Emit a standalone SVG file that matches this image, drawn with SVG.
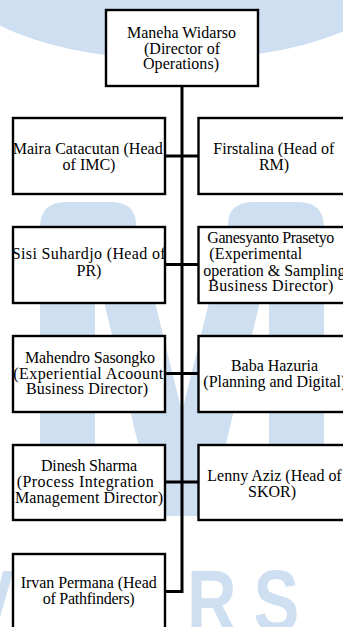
<svg xmlns="http://www.w3.org/2000/svg" width="343" height="627" viewBox="0 0 343 627">
<style>
.wm{fill:#cddff0}
.wmt{font-family:"Liberation Sans",Arial,sans-serif;font-weight:bold;font-size:88px;fill:#cddff0}
.box{fill:#fff;stroke:#000;stroke-width:2.4}
.t{font-family:"Liberation Serif","Times New Roman",serif;font-size:16px;fill:#000}
.c{text-anchor:middle}
.con{fill:none;stroke:#000;stroke-width:3}
</style>
<rect width="343" height="627" fill="#fff"/>
<g id="watermark">
<ellipse class="wm" cx="178" cy="-34" rx="230" ry="94"/>
<path class="wm" d="M40,516 L40,228 Q40,202 66,202 L110,202 Q136,202 136,225 L182,412 L228,225 Q228,202 254,202 L298,202 Q324,202 324,228 L324,516 L269,516 L269,264 L208.6,516 L155.4,516 L95,264 L95,516 Z"/>
<g transform="translate(-32,631) scale(0.78,1)"><text class="wmt" x="0" y="0">V</text></g>
<g transform="translate(187,631) scale(0.78,1)"><text class="wmt" x="0" y="0">R</text></g>
<g transform="translate(253.5,631) scale(0.78,1)"><text class="wmt" x="0" y="0">S</text></g>
</g>
<g id="connectors">
<path class="con" d="M182,87 V591.5 H166"/>
<path class="con" d="M166,156 H198"/>
<path class="con" d="M166,264.5 H198"/>
<path class="con" d="M166,373.5 H198"/>
<path class="con" d="M166,482 H198"/>
</g>
<g id="n-maneha">
<rect class="box" x="106" y="10" width="152" height="76"/>
<text class="t" x="127" y="37.5" textLength="109">Maneha Widarso</text>
<text class="t" x="144" y="53.5" textLength="76">(Director of</text>
<text class="t" x="143" y="69" textLength="76">Operations)</text>
</g>
<g id="n-maira">
<rect class="box" x="13" y="118" width="152" height="76"/>
<text class="t" x="12.7" y="153.5" textLength="150">Maira Catacutan (Head</text>
<text class="t c" x="89" y="169.5">of IMC)</text>
</g>
<g id="n-firstalina">
<rect class="box" x="198.5" y="118" width="152" height="76"/>
<text class="t" x="213.3" y="153.5" textLength="121">Firstalina (Head of</text>
<text class="t c" x="274" y="169.5">RM)</text>
</g>
<g id="n-sisi">
<rect class="box" x="13" y="227" width="152" height="76"/>
<text class="t" x="11.7" y="259" textLength="154">Sisi Suhardjo (Head of</text>
<text class="t c" x="89" y="275.5">PR)</text>
</g>
<g id="n-ganesyanto">
<rect class="box" x="198.5" y="227" width="152" height="76"/>
<text class="t" x="207.3" y="243.3" textLength="127">Ganesyanto Prasetyo</text>
<text class="t" x="209.3" y="259.3" textLength="93">(Experimental</text>
<text class="t" x="203.3" y="275.5">operation &amp; Sampling</text>
<text class="t" x="208.3" y="291.3" textLength="125">Business Director)</text>
</g>
<g id="n-mahendro">
<rect class="box" x="13" y="336" width="152" height="76"/>
<text class="t" x="25" y="362.7" textLength="130">Mahendro Sasongko</text>
<text class="t" x="13.3" y="378.5" textLength="150">(Experiential Acoount</text>
<text class="t" x="26" y="394.3" textLength="122">Business Director)</text>
</g>
<g id="n-baba">
<rect class="box" x="198.5" y="336" width="152" height="76"/>
<text class="t" x="231" y="370.5" textLength="87">Baba Hazuria</text>
<text class="t" x="203.3" y="386.5">(Planning and Digital)</text>
</g>
<g id="n-dinesh">
<rect class="box" x="13" y="445" width="152" height="75"/>
<text class="t" x="41" y="470.7" textLength="96">Dinesh Sharma</text>
<text class="t" x="16.7" y="486.7" textLength="137">(Process Integration</text>
<text class="t" x="15" y="502.7" textLength="148">Management Director)</text>
</g>
<g id="n-lenny">
<rect class="box" x="198.5" y="445" width="152" height="75"/>
<text class="t" x="207.3" y="481" textLength="134.4">Lenny Aziz (Head of</text>
<text class="t c" x="272" y="497">SKOR)</text>
</g>
<g id="n-irvan">
<rect class="box" x="13" y="554" width="152" height="80"/>
<text class="t" x="20.7" y="588.3" textLength="136">Irvan Permana (Head</text>
<text class="t" x="42.7" y="604.3" textLength="92">of Pathfinders)</text>
</g>
</svg>
